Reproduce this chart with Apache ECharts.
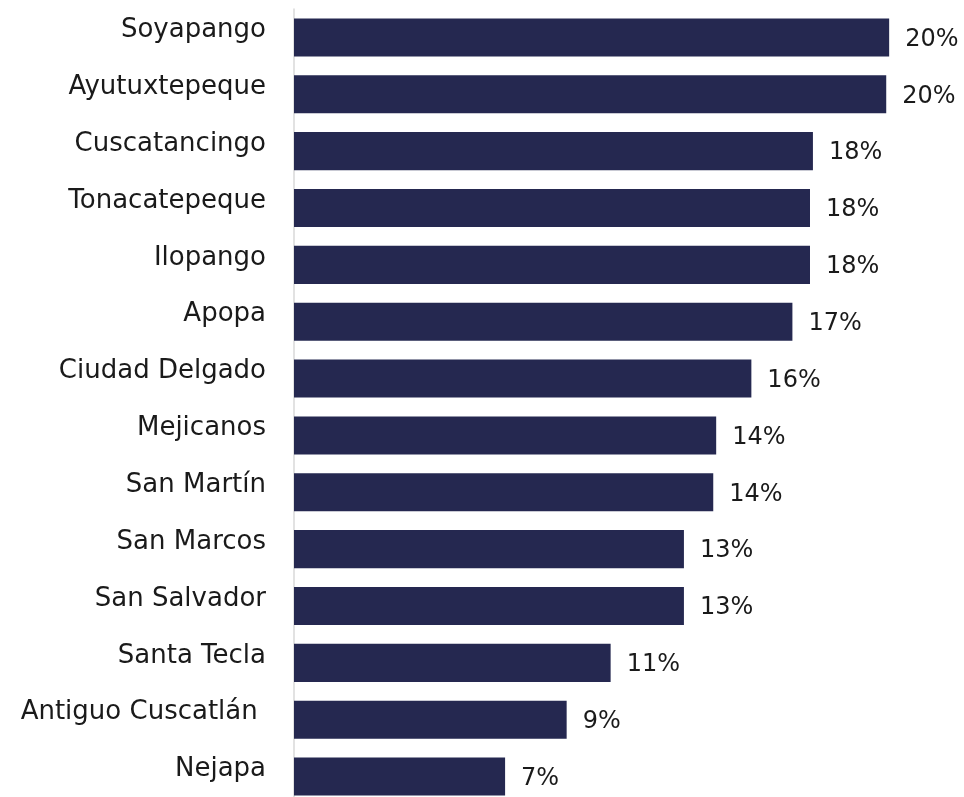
<!DOCTYPE html>
<html>
<head>
<meta charset="utf-8">
<script src="https://cdn.jsdelivr.net/npm/echarts@6/dist/echarts.min.js"></script>
<style>
  html, body { margin: 0; padding: 0; background: #fff; }
  #chart { width: 964px; height: 797px; }
</style>
</head>
<body>
<div id="chart"></div>
<script>
// municipios, de mayor a menor
var municipios = ['Soyapango', 'Ayutuxtepeque', 'Cuscatancingo', 'Tonacatepeque', 'Ilopango', 'Apopa',
  'Ciudad Delgado', 'Mejicanos', 'San Martín', 'San Marcos', 'San Salvador', 'Santa Tecla',
  'Antiguo Cuscatlán ', 'Nejapa'];
// porcentaje
var porcentajes = [20.3, 20.2, 17.7, 17.6, 17.6, 17.0, 15.6, 14.4, 14.3, 13.3, 13.3, 10.8, 9.3, 7.2];

var chartDom = document.getElementById('chart');
var myChart = echarts.init(chartDom);
var fuente = 'DejaVu Sans';
var option = {
  animation: false,
  grid: {
    left: 294,
    right: 25,
    top: 9,
    bottom: -8,
    outerBoundsMode: 'none'
  },
  xAxis: {
    type: 'value',
    min: 0,
    max: 22,
    show: false
  },
  yAxis: {
    type: 'category',
    inverse: true,
    data: municipios,
    axisLine: { show: true, lineStyle: { color: '#d9d9d9', width: 1.5 } },
    axisTick: { show: false },
    axisLabel: {
      margin: 28,
      fontSize: 26,
      fontFamily: fuente,
      color: '#1a1a1a',
      verticalAlign: 'bottom',
      lineHeight: 14
    }
  },
  series: [
    {
      type: 'bar',
      data: porcentajes,
      barCategoryGap: '33%',
      itemStyle: { color: '#252850' },
      label: {
        show: true,
        position: 'right',
        distance: 16,
        offset: [0, 2],
        fontSize: 24,
        fontFamily: fuente,
        color: '#1a1a1a',
        formatter: function (p) { return Math.round(p.value) + '%'; }
      }
    }
  ]
};
myChart.setOption(option);
</script>
</body>
</html>
